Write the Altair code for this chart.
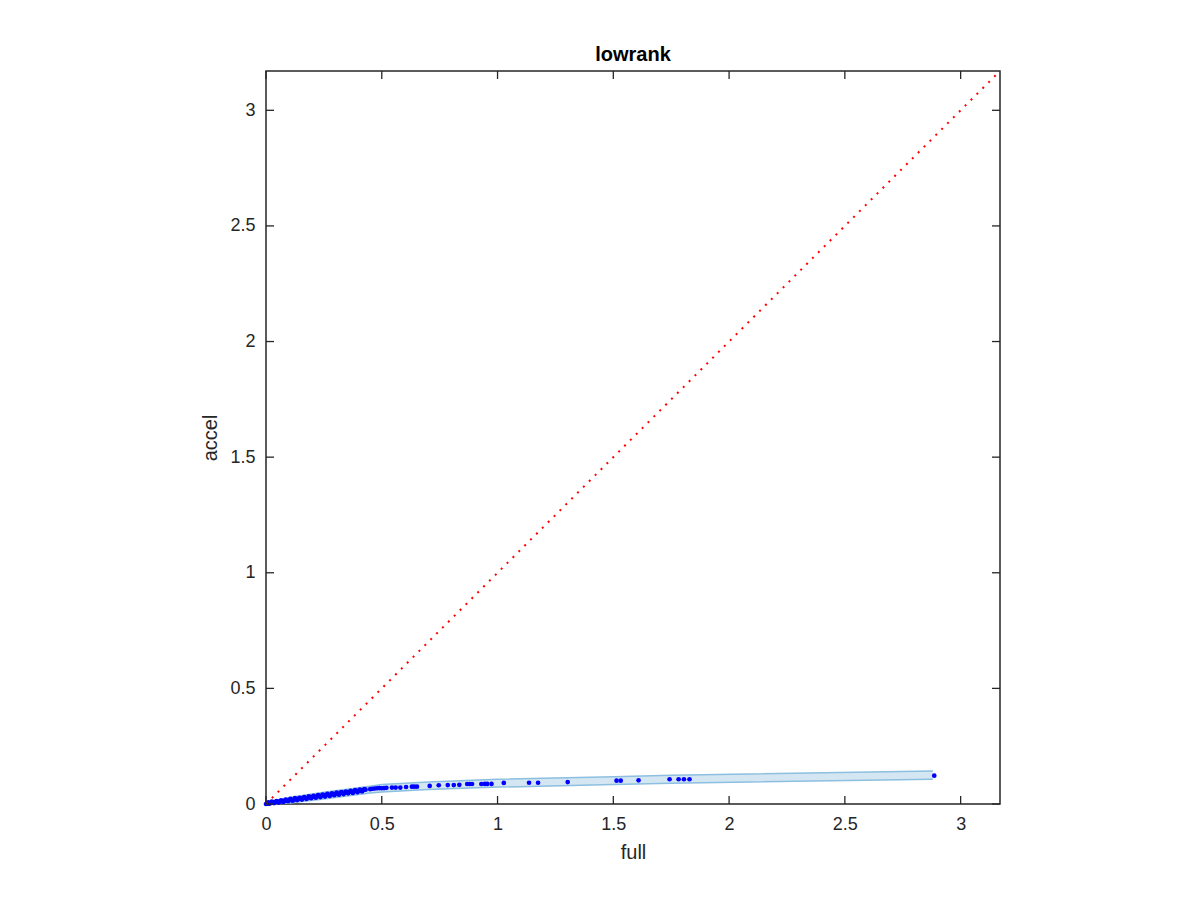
import altair as alt
import pandas as pd

# dense points near the origin
dense_x = [0.0, 0.005, 0.01, 0.015, 0.02, 0.03, 0.04, 0.05, 0.06, 0.07, 0.08, 0.09, 0.10,
           0.11, 0.12, 0.13, 0.14, 0.15, 0.16, 0.17, 0.18, 0.19, 0.20, 0.21, 0.22, 0.23,
           0.24, 0.25, 0.26, 0.27, 0.28, 0.29, 0.30, 0.31, 0.32, 0.33, 0.34, 0.35, 0.36,
           0.37, 0.38, 0.39, 0.40, 0.41, 0.42, 0.43, 0.45, 0.46, 0.47, 0.48, 0.49, 0.50,
           0.51, 0.52]
dense_y = [0.000, 0.002, 0.003, 0.004, 0.005, 0.006, 0.008, 0.009, 0.011, 0.012, 0.014,
           0.015, 0.016, 0.018, 0.019, 0.020, 0.022, 0.023, 0.025, 0.026, 0.027, 0.029,
           0.030, 0.031, 0.033, 0.034, 0.036, 0.037, 0.038, 0.040, 0.041, 0.042, 0.044,
           0.045, 0.046, 0.048, 0.049, 0.050, 0.052, 0.053, 0.055, 0.056, 0.057, 0.059,
           0.060, 0.062, 0.064, 0.066, 0.067, 0.068, 0.069, 0.068, 0.069, 0.070]
# second, slightly offset row (above) making the dense stroke thicker
dense2_x = [0.01, 0.025, 0.045, 0.065, 0.085, 0.105, 0.125, 0.145, 0.165, 0.185, 0.205,
            0.225, 0.245, 0.265, 0.285, 0.305, 0.325, 0.345, 0.365, 0.385, 0.405, 0.425]
dense2_y = [0.007, 0.010, 0.013, 0.016, 0.019, 0.022, 0.025, 0.027, 0.030, 0.033, 0.035,
            0.038, 0.041, 0.044, 0.046, 0.049, 0.052, 0.054, 0.057, 0.060, 0.062, 0.065]
# third row (below)
dense3_x = [0.015, 0.035, 0.055, 0.075, 0.095, 0.115, 0.135, 0.155, 0.175, 0.195, 0.215,
            0.235, 0.255, 0.275, 0.295, 0.315, 0.335, 0.355, 0.375, 0.395, 0.415]
dense3_y = [0.001, 0.004, 0.006, 0.009, 0.012, 0.014, 0.017, 0.019, 0.022, 0.025, 0.027,
            0.030, 0.032, 0.035, 0.038, 0.040, 0.043, 0.046, 0.048, 0.051, 0.054]
# sparse points
sparse_x = [0.544, 0.56, 0.58, 0.605, 0.63, 0.64, 0.652, 0.707, 0.746, 0.785, 0.811, 0.835,
            0.869, 0.88, 0.89, 0.93, 0.945, 0.955, 0.974, 1.027, 1.136, 1.175, 1.303,
            1.514, 1.532, 1.609, 1.743, 1.782, 1.805, 1.829, 2.886]
sparse_y = [0.071, 0.071, 0.071, 0.0735, 0.075, 0.075, 0.075, 0.078, 0.081, 0.082, 0.082,
            0.083, 0.0865, 0.0865, 0.0865, 0.0865, 0.087, 0.087, 0.087, 0.091, 0.092,
            0.092, 0.095, 0.101, 0.101, 0.1025, 0.107, 0.107, 0.107, 0.107, 0.1225]

# confidence band
band_x = [0.0, 0.1, 0.25, 0.45, 0.5, 0.7, 1.0, 1.5, 1.75, 2.88]
band_lo = [0.0, 0.004, 0.022, 0.048, 0.052, 0.063, 0.073, 0.084, 0.090, 0.107]
band_hi = [0.006, 0.028, 0.051, 0.077, 0.084, 0.095, 0.107, 0.118, 0.124, 0.143]

diag_v = [0.0, 3.17]
tick_vals = [0, 0.5, 1, 1.5, 2, 2.5, 3]
DOMAIN = [0, 3.17]

FONT = "Liberation Sans"
DARK = "#262626"
W, H = 734, 733
TL = 8

pts = pd.DataFrame({"x": dense_x + dense2_x + dense3_x + sparse_x,
                    "y": dense_y + dense2_y + dense3_y + sparse_y})
band = pd.DataFrame({"x": band_x, "lo": band_lo, "hi": band_hi})
diag = pd.DataFrame({"x": diag_v, "y": diag_v})
ticks = pd.DataFrame({"x": tick_vals, "y": tick_vals})

xscale = alt.Scale(domain=DOMAIN, nice=False, zero=False)
yscale = alt.Scale(domain=DOMAIN, nice=False, zero=False)
xaxis = alt.Axis(values=tick_vals, title="full", ticks=False, domain=False, grid=False,
                 labelExpr="datum.value + ''", labelFont=FONT, labelFontSize=18,
                 labelColor=DARK, labelPadding=11, labelFlush=False,
                 titleFont=FONT, titleFontSize=20,
                 titleFontWeight="normal", titleColor=DARK, titleX=W / 2, titleY=54,
                 titleBaseline="alphabetic")
yaxis = alt.Axis(values=tick_vals, title="accel", ticks=False, domain=False, grid=False,
                 labelExpr="datum.value + ''", labelFont=FONT, labelFontSize=18,
                 labelColor=DARK, labelPadding=11, labelFlush=False,
                 titleFont=FONT, titleFontSize=20,
                 titleFontWeight="normal", titleColor=DARK, titleX=-50, titleY=H / 2,
                 titleBaseline="alphabetic")

X = alt.X("x:Q", scale=xscale, axis=xaxis)
Y = alt.Y("y:Q", scale=yscale, axis=yaxis)

area = alt.Chart(band).mark_area(color="#d5e6f3", opacity=1).encode(
    x=X, y=alt.Y("lo:Q", scale=yscale, axis=yaxis), y2="hi:Q")
edge_lo = alt.Chart(band).mark_line(color="#8cbfe0", strokeWidth=1.5).encode(
    x=X, y=alt.Y("lo:Q", scale=yscale, axis=yaxis))
edge_hi = alt.Chart(band).mark_line(color="#8cbfe0", strokeWidth=1.5).encode(
    x=X, y=alt.Y("hi:Q", scale=yscale, axis=yaxis))
points = alt.Chart(pts).mark_circle(color="#0000ff", size=22, opacity=1).encode(x=X, y=Y)
line = alt.Chart(diag).mark_line(color="#ff0000", strokeWidth=2,
                                 strokeDash=[2, 6.3], clip=True).encode(x=X, y=Y)

tb = alt.Chart(ticks).mark_rule(color=DARK, strokeWidth=1.3).encode(
    x=X, y=alt.value(H), y2=alt.value(H - TL))
tt = alt.Chart(ticks).mark_rule(color=DARK, strokeWidth=1.3).encode(
    x=X, y=alt.value(0), y2=alt.value(TL))
tl = alt.Chart(ticks).mark_rule(color=DARK, strokeWidth=1.3).encode(
    y=Y, x=alt.value(0), x2=alt.value(TL))
tr = alt.Chart(ticks).mark_rule(color=DARK, strokeWidth=1.3).encode(
    y=Y, x=alt.value(W), x2=alt.value(W - TL))

chart = alt.layer(area, edge_lo, edge_hi, points, line, tb, tt, tl, tr).properties(
    width=W, height=H,
    background="white",
    title=alt.TitleParams(text="lowrank", font=FONT, fontSize=20, fontWeight="bold",
                          color="black", anchor="middle", offset=11, dy=22,
                          baseline="alphabetic"),
    padding={"left": 258, "top": 63, "right": 20, "bottom": 80},
    autosize=alt.AutoSizeParams(type="none"),
).configure_view(stroke=DARK, strokeWidth=1.5)

chart.save("out.html", embed_options={"renderer": "svg", "actions": False})
